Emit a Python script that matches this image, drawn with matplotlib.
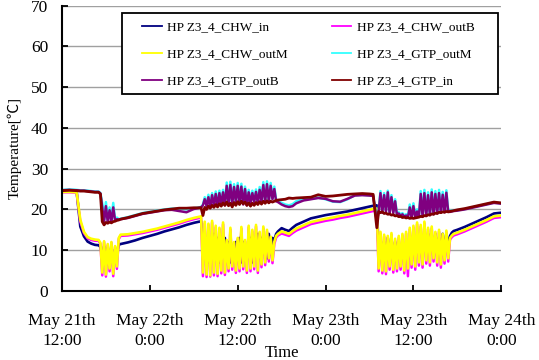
import numpy as np
import matplotlib
matplotlib.use("Agg")
import matplotlib.pyplot as plt
from matplotlib.patches import Rectangle

plt.rcParams['font.family'] = ['Liberation Serif', 'Noto Sans CJK JP', 'DejaVu Sans']

# sample times, hours after May 21th 12:00 (dense where the signals oscillate)
hours = np.concatenate([
    [0, 1, 2, 2.5, 3, 3.5, 4, 4.5],
    np.arange(5.0, 8.01, 0.25),
    np.arange(9, 19),
    [18.5],
    np.arange(19.0, 29.51, 0.25),
    [30, 30.5, 31, 31.5, 32],
    np.arange(33, 43),
    [42.5],
    np.arange(43.0, 53.51, 0.25),
    np.arange(54, 61),
])

chw_in = [
    24.5, 24.5, 24.4, 15.8, 13.4, 12.1, 11.6, 11.3,
    11.2, 10.8, 8.5, 10.9, 7.5, 10.6, 8.0, 10.5, 7.0, 10.2, 9.0, 11.3, 11.5,
    11.9, 12.4, 13.0, 13.5, 14.0, 14.6, 15.1, 15.6, 16.2, 16.7, 16.9,
    17.1,
    12, 8, 13, 7, 12, 9, 14, 8, 13, 7,
    11, 9, 13, 8, 12, 7, 11, 9, 12, 8,
    13, 7, 12, 9, 11, 8, 13, 7, 12, 9,
    14, 8, 13, 9, 12, 8, 14, 9, 13,
    12.5, 14.0, 14.6,
    15.4, 15.0, 14.7, 15.5, 16.2, 17.0, 17.8, 18.2, 18.6, 18.9, 19.2, 19.5, 19.9, 20.3, 20.7, 20.9,
    21.0,
    10, 13, 8, 12, 9, 13, 8, 11, 9, 12,
    8.5, 11, 9, 12, 8, 10, 9, 12, 10, 13,
    9, 12, 10, 14, 9, 13, 10, 14, 11, 13,
    10, 14, 11, 13, 10, 14, 11, 13, 12,
    13.5, 14.3, 14.7,
    15.0, 15.7, 16.5, 17.3, 18.1, 19.0, 19.2,
]

chw_outm = [
    24.3, 24.3, 24.2, 17.5, 14.5, 13.2, 12.8, 12.6,
    12.5, 11.8, 4.5, 12.2, 4.0, 11.5, 5.5, 12.0, 4.2, 11.0, 6.0, 13.0, 13.8,
    13.9, 14.2, 14.5, 14.9, 15.3, 15.8, 16.3, 16.8, 17.4, 17.9, 18.1,
    18.3,
    4.5, 17.0, 4.0, 16.5, 3.8, 17.2, 4.5, 16.0, 4.2, 15.5,
    5.0, 16.8, 4.5, 12.5, 5.5, 15.5, 6.0, 12.0, 5.0, 13.0,
    5.5, 15.7, 6.0, 12.5, 5.0, 16.0, 5.5, 15.0, 6.0, 16.2,
    5.0, 14.5, 6.5, 15.8, 7.0, 15.0, 8.0, 13.3, 7.5,
    12.0, 13.5, 14.0,
    14.6, 14.3, 14.0, 14.7, 15.3, 16.1, 16.9, 17.3, 17.7, 18.0, 18.4, 18.7, 19.1, 19.5, 19.9, 20.1,
    20.2,
    5.5, 14.5, 5.0, 13.8, 4.8, 13.5, 6.0, 14.2, 5.2, 12.8,
    5.5, 13.5, 6.0, 14.0, 5.0, 14.5, 5.5, 15.5, 6.5, 16.0,
    6.0, 16.8, 7.0, 16.2, 6.5, 17.0, 7.5, 15.5, 7.0, 15.8,
    8.0, 14.5, 7.0, 15.0, 6.5, 14.0, 7.5, 14.8, 8.0,
    13.0, 13.6, 14.0,
    14.3, 15.0, 15.8, 16.6, 17.4, 18.3, 18.5,
]

chw_outb = [
    24.2, 24.2, 24.1, 17.0, 14.2, 12.9, 12.5, 12.3,
    12.3, 11.5, 3.8, 12.0, 3.5, 11.2, 4.8, 11.8, 3.6, 10.8, 5.4, 12.7, 13.5,
    13.6, 13.9, 14.2, 14.6, 15.0, 15.5, 16.0, 16.5, 17.1, 17.6, 17.8,
    18.0,
    3.6, 16.6, 3.4, 16.2, 3.5, 16.8, 3.8, 15.6, 3.6, 15.2,
    4.3, 16.4, 3.9, 12.2, 4.8, 15.1, 5.2, 11.7, 4.4, 12.7,
    4.8, 15.3, 5.3, 12.2, 4.4, 15.6, 4.8, 14.6, 5.3, 15.8,
    4.4, 14.2, 5.8, 15.4, 6.3, 14.6, 7.2, 13.0, 6.8,
    11.5, 13.1, 13.6,
    14.1, 13.8, 13.5, 14.2, 14.8, 15.6, 16.4, 16.8, 17.2, 17.5, 17.9, 18.2, 18.6, 19.0, 19.4, 19.6,
    19.7,
    4.8, 14.1, 4.3, 13.4, 4.1, 13.1, 5.2, 13.8, 4.5, 12.4,
    4.8, 13.1, 5.2, 13.6, 4.3, 14.1, 3.6, 15.1, 5.7, 15.6,
    5.2, 16.4, 6.2, 15.8, 5.7, 16.6, 6.7, 15.1, 6.2, 15.4,
    7.2, 14.1, 6.2, 14.6, 5.7, 13.6, 6.7, 14.4, 7.2,
    12.6, 13.2, 13.6,
    13.9, 14.6, 15.4, 16.2, 17.0, 17.9, 18.1,
]

gtp_outm = [
    24.8, 24.9, 24.8, 24.7, 24.7, 24.6, 24.5, 24.4,
    24.4, 24.0, 21.5, 17.5, 21.8, 17.2, 20.5, 17.3, 21.6, 17.5, 18.0, 17.6, 17.7,
    18.1, 18.6, 19.1, 19.4, 19.7, 20.0, 20.2, 20.2, 20.0, 20.3, 20.4,
    20.6,
    21.2, 23.0, 21.0, 23.6, 20.8, 24.0, 21.2, 24.4, 21.0, 24.6,
    21.4, 24.8, 21.2, 26.6, 21.7, 26.8, 21.4, 26.2, 22.0, 26.5,
    21.7, 26.3, 21.4, 25.6, 21.2, 24.8, 21.7, 24.6, 22.0, 24.9,
    21.7, 25.5, 22.2, 26.7, 22.0, 26.9, 22.2, 26.5, 22.7,
    25.6, 22.3, 22.0,
    21.6, 21.2, 21.0, 21.3, 22.0, 22.5, 22.6, 22.9, 22.5, 21.9, 21.8, 22.5, 23.5, 23.6, 23.5, 23.4,
    17.5,
    19.8, 24.5, 19.5, 24.0, 19.7, 24.6, 19.3, 23.5, 19.4, 22.5,
    18.9, 19.3, 18.7, 19.1, 18.5, 18.8, 18.3, 21.2, 18.2, 21.5,
    18.3, 20.0, 18.5, 24.5, 18.6, 24.8, 18.7, 24.2, 18.9, 24.9,
    19.1, 24.5, 19.3, 24.8, 19.5, 24.3, 19.6, 24.7, 19.7,
    19.6, 19.7, 19.8,
    19.8, 20.1, 20.5, 20.9, 21.3, 21.7, 21.5,
]

gtp_outb = [
    24.7, 24.8, 24.7, 24.6, 24.6, 24.5, 24.4, 24.3,
    24.3, 23.9, 20.5, 17.0, 20.8, 16.9, 19.8, 17.0, 20.5, 17.3, 17.6, 17.5, 17.6,
    17.9, 18.4, 18.9, 19.2, 19.5, 19.8, 19.9, 19.6, 19.3, 20.1, 20.3,
    20.5,
    21.0, 22.5, 20.8, 23.0, 20.5, 23.5, 21.0, 23.8, 20.8, 24.0,
    21.2, 24.2, 21.0, 25.8, 21.5, 26.0, 21.2, 25.5, 21.8, 25.8,
    21.5, 25.6, 21.2, 25.0, 21.0, 24.2, 21.5, 24.0, 21.8, 24.3,
    21.5, 24.8, 22.0, 26.0, 21.8, 26.2, 22.0, 25.8, 22.5,
    25.0, 22.0, 21.8,
    21.2, 20.8, 20.6, 20.8, 21.5, 22.2, 22.5, 22.8, 22.6, 22.0, 21.9, 22.6, 23.4, 23.5, 23.4, 23.3,
    17.0,
    19.5, 24.0, 19.2, 23.5, 19.4, 24.2, 19.0, 23.0, 19.1, 22.0,
    18.6, 19.0, 18.4, 18.8, 18.2, 18.5, 18.0, 20.5, 17.9, 20.8,
    18.0, 19.5, 18.2, 23.8, 18.3, 24.0, 18.4, 23.5, 18.6, 24.2,
    18.8, 23.8, 19.0, 24.0, 19.2, 23.6, 19.3, 24.1, 19.4,
    19.4, 19.5, 19.6,
    19.7, 20.0, 20.4, 20.8, 21.2, 21.6, 21.4,
]

gtp_in = [
    24.6, 24.7, 24.6, 24.5, 24.5, 24.4, 24.3, 24.2,
    24.2, 23.8, 17.0, 16.2, 16.8, 16.6, 16.9, 16.7, 17.0, 17.1, 17.3, 17.4, 17.6,
    18.0, 18.5, 19.0, 19.3, 19.6, 19.9, 20.1, 20.3, 20.3, 20.4, 20.4,
    20.4,
    18.5, 20.5, 20.0, 20.8, 20.3, 21.0, 20.5, 21.2, 20.6, 21.4,
    20.8, 21.6, 21.0, 21.8, 20.9, 21.5, 20.6, 21.7, 21.0, 21.9,
    21.2, 22.0, 21.4, 21.8, 21.0, 21.6, 20.8, 21.5, 21.0, 21.7,
    21.2, 21.9, 21.3, 22.0, 21.5, 22.1, 21.6, 22.0, 21.8,
    22.0, 22.2, 22.3,
    22.4, 22.5, 22.8, 22.7, 22.8, 22.9, 23.0, 23.6, 23.2, 23.3, 23.5, 23.7, 23.8, 23.9, 23.8, 23.7,
    15.5,
    19.5, 19.2, 19.4, 19.0, 19.1, 18.8, 18.9, 18.6, 18.7, 18.4,
    18.5, 18.2, 18.3, 18.0, 18.1, 17.9, 18.0, 17.8, 17.9, 17.8,
    17.9, 18.0, 18.1, 18.3, 18.2, 18.5, 18.4, 18.7, 18.6, 18.9,
    18.8, 19.1, 19.0, 19.3, 19.2, 19.4, 19.3, 19.5, 19.4,
    19.5, 19.6, 19.7,
    19.9, 20.2, 20.6, 21.0, 21.4, 21.8, 21.6,
]

tick_hours = [0, 12, 24, 36, 48, 60]
tick_labels = ["May 21th\n12:00", "May 22th\n0:00", "May 22th\n12:00",
               "May 23th\n0:00", "May 23th\n12:00", "May 24th\n0:00"]

fig = plt.figure(figsize=(5.39, 3.6), dpi=100)
ax = fig.add_axes([0.115, 0.192, 0.815, 0.792])

ax.plot(hours, chw_in, color="#000080", lw=1.9, label="HP Z3_4_CHW_in")
ax.plot(hours, chw_outb, color="#ff00ff", lw=1.8, label="HP Z3_4_CHW_outB")
ax.plot(hours, chw_outm, color="#ffff00", lw=1.9, label="HP Z3_4_CHW_outM")
ax.plot(hours, gtp_outm, color="#33ffff", lw=1.8, label="HP Z3_4_GTP_outM")
ax.plot(hours, gtp_outb, color="#800080", lw=1.8, label="HP Z3_4_GTP_outB")
ax.plot(hours, gtp_in, color="#800000", lw=2.0, label="HP Z3_4_GTP_in")

ax.set_xlim(0, 60)
ax.set_ylim(0, 70)
ax.set_yticks(range(0, 71, 10))
ax.set_xticks(tick_hours)
ax.set_xticklabels(tick_labels, linespacing=1.3)
ax.tick_params(axis="y", direction="in", length=4, width=1.3, pad=10, labelsize=12.5)
ax.tick_params(axis="x", direction="in", length=4, width=1.3, pad=16, labelsize=12.5)
ax.grid(axis="y", color="#a0a0a0", lw=1.0)
ax.set_axisbelow(True)
for s in ["top", "right"]:
    ax.spines[s].set_visible(False)
for s in ["left", "bottom"]:
    ax.spines[s].set_linewidth(1.5)

ax.set_ylabel("Temperature[℃]", fontsize=11)
ax.yaxis.set_label_coords(-0.092, 0.5)
fig.text(0.523, 0.02, "Time", ha="center", va="center", fontsize=12)

# legend frame (fixed size box as in the original)
frame = Rectangle((0.2263, 0.7389), 0.6976, 0.225, transform=fig.transFigure,
                  facecolor="white", edgecolor="black", lw=1.3, zorder=4)
ax.add_patch(frame)
frame.set_clip_on(False)

h, l = ax.get_legend_handles_labels()
order = [0, 2, 4, 1, 3, 5]
leg = ax.legend([h[i] for i in order], [l[i] for i in order], ncol=2,
                loc="upper left", bbox_to_anchor=(0.182, 0.945),
                fontsize=9.5, frameon=False, borderpad=0, borderaxespad=0,
                labelspacing=1.1, handlelength=1.5, handletextpad=0.4,
                columnspacing=3.33)
leg.set_zorder(5)
for line in leg.get_lines():
    line.set_linewidth(1.3)

fig.savefig("out.png", dpi=100)
